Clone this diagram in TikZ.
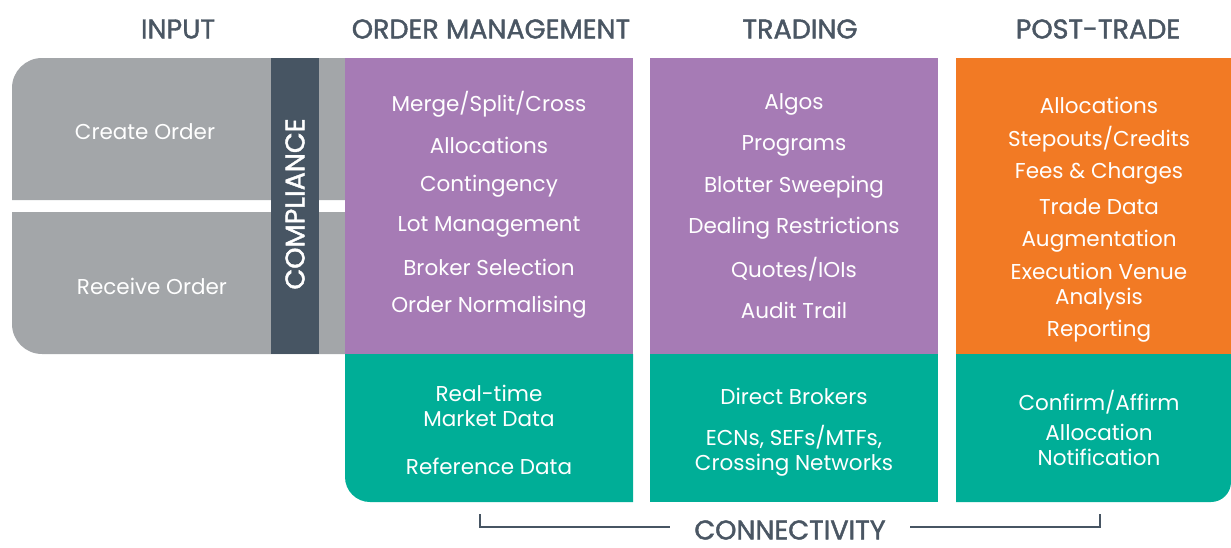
\documentclass[tikz,border=0pt]{standalone}
\usepackage{fontspec}
\setmainfont{Poppins}
\newfontfamily\headfont{Poppins}[FakeBold=1.6]
\definecolor{greyc}{HTML}{A3A6A9}
\definecolor{slate}{HTML}{475563}
\definecolor{purp}{HTML}{A67BB5}
\definecolor{tealc}{HTML}{00AE97}
\definecolor{orng}{HTML}{F27A24}
\definecolor{headc}{HTML}{4A5663}
\begin{document}
\begin{tikzpicture}[x=1pt,y=-1pt,
  header/.style={text=headc,font=\headfont\fontsize{27}{30}\selectfont,anchor=center,inner sep=0pt},
  body/.style={text=white,font=\fontsize{21.5}{25}\selectfont,align=center,anchor=center,inner sep=0pt},
  bracket/.style={draw=slate,line width=2.6pt}]
\useasboundingbox (0,0) rectangle (1231,547);
% input boxes
\fill[greyc] (346,58) -- (346,200) -- (12,200) [rounded corners=30]-- (12,58) [sharp corners]-- cycle;
\fill[greyc] (346,212) -- (346,354) [rounded corners=30]-- (12,354) [sharp corners]-- (12,212) -- cycle;
\fill[slate] (271,58) rectangle (319,354);
% order management
\fill[purp] (345,58) rectangle (633,354);
\fill[tealc] (633,354) -- (633,502) [rounded corners=25]-- (345,502) [sharp corners]-- (345,354) -- cycle;
% trading
\fill[purp] (650,58) rectangle (938,354);
\fill[tealc] (650,354) rectangle (938,502);
% post-trade
\fill[orng] (956,58) rectangle (1231,354);
\fill[tealc] (956,354) -- (1231,354) [rounded corners=20]-- (1231,502) [sharp corners]-- (956,502) -- cycle;

% headers
\node[header] (hin) at (178,29) {INPUT};
\node[header] (hom) at (491,29) {ORDER MANAGEMENT};
\node[header] (htr) at (800,29) {TRADING};
\node[header] (hpt) at (1098,29) {POST-TRADE};

% input
\node[body] (create) at (145,132) {Create Order};
\node[body] (receive) at (152,286) {Receive Order};
\node[text=white,font=\headfont\fontsize{27}{30}\selectfont,rotate=90,inner sep=0pt] (comp) at (295,204) {COMPLIANCE};

% order management
\node[body] (om1) at (489,104) {Merge/Split/Cross};
\node[body] (om2) at (489,145) {Allocations};
\node[body] (om3) at (489,186) {Contingency};
\node[body] (om4) at (489,227) {Lot Management};
\node[body] (om5) at (489,267) {Broker Selection};
\node[body] (om6) at (489,307) {Order Normalising};
\node[body] (omc1) at (489,406) {Real-time\\Market Data};
\node[body] (omc2) at (489,466) {Reference Data};

% trading
\node[body] (tr1) at (794,104) {Algos};
\node[body] (tr2) at (794,146) {Programs};
\node[body] (tr3) at (794,187) {Blotter Sweeping};
\node[body] (tr4) at (794,228) {Dealing Restrictions};
\node[body] (tr5) at (794,269) {Quotes/IOIs};
\node[body] (tr6) at (794,310) {Audit Trail};
\node[body] (trc1) at (794,396) {Direct Brokers};
\node[body] (trc2) at (794,451) {ECNs, SEFs/MTFs,\\Crossing Networks};

% post-trade
\node[body] (pt1) at (1099,105) {Allocations};
\node[body] (pt2) at (1099,139) {Stepouts/Credits};
\node[body] (pt3) at (1099,173) {Fees \& Charges};
\node[body] (pt4) at (1099,207) {Trade Data};
\node[body] (pt5) at (1099,241) {Augmentation};
\node[body] (pt6) at (1099,287) {Execution Venue\\Analysis};
\node[body] (pt7) at (1099,331) {Reporting};
\node[body] (ptc1) at (1099,402) {Confirm/Affirm};
\node[body] (ptc2) at (1099,445) {Allocation\\Notification};

% connectivity
\node[header] (conn) at (790,530) {CONNECTIVITY};
\coordinate (cl) at (480,514);
\coordinate (cr) at (1100,514);
\draw[bracket] (cl) |- ([xshift=-24pt,yshift=3pt]conn.west);
\draw[bracket] (cr) |- ([xshift=24pt,yshift=3pt]conn.east);
\end{tikzpicture}
\end{document}
